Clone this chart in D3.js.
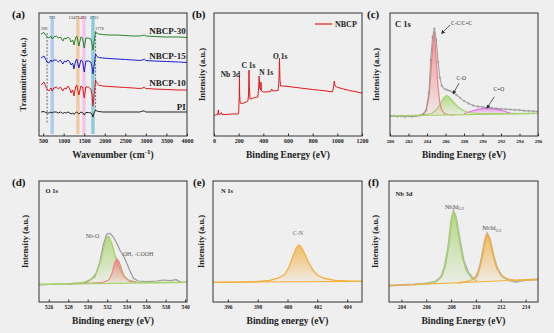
<!DOCTYPE html>
<html>
<head>
<meta charset="utf-8">
<script src="https://cdn.jsdelivr.net/npm/d3@7"></script>
<style>
  body { margin: 0; background: #efefef; }
  svg { display: block; font-family: "Liberation Serif", "Times New Roman", serif; }
</style>
</head>
<body>
<script>
// ---------- (a) FTIR ----------
const ftirWn = [450,520,560,596,640,690,721,760,820,870,920,980,1020,1060,1100,1150,1180,1220,1250,1290,
  1320,1370,1420,1460,1500,1540,1600,1660,1690,1712,1740,1776,1800,1850,1950,2100,2300,2500,2700,2850,
  2920,2960,3000,3200,3500,3800,4000];
const ftirNBCP30 = [102,103.5,101,99,98,100,97,99,100,98, 99,95,98,97,99,97,94,96,91,98,
  100,90,99,98,88,98,98,97,92,86, 94,104.5,103,102,101.5,101,101,100.5,100,100, 100.5,101,100,99.5,99,99,98.5];
const ftirNBCP15 = [78,80,77,74,73,76,74,76,76,74, 76,72,75,74,76,74,71,73,67,75,
  77,68,76,75,64,75,75,74,69,62, 70,82,80,78.5,78,77.5,77,76.5,76,75.5, 76,77,75.5,75,74.5,74,73.5];
const ftirNBCP10 = [51,54,50,47,45,48,45,48,49,47, 49,45,48,47,50,47,43,46,40,49,
  51,41,50,49,38,49,49,47,41,30, 41,56,53,51,50,49.5,49,48.5,48,47.5, 48,49,47.5,47,46.5,46,46];
const ftirPI = [24,24.5,23.5,23,23,24,23,24,24,23, 24,22.5,23.5,23,24,23,22,23,21.5,23.5,
  24,22,24,23.5,21,23.5,23.5,23,22,19, 23,26,25,24.5,24,24,24,24,24,24, 25,25,24,24,24,24,24];
const ftirSeries = ["NBCP-30","NBCP-15","NBCP-10","PI"];
const ftirBands = [721,1347,1493,1712];
const ftirDashed = [596,1776];
const ftirTicks = [500,1000,1500,2000,2500,3000,3500,4000];

// ---------- (b) XPS survey ----------
const surveyE = [0,10,20,30,35,40,50,60,65,100,150,195,200,204.5,206.5,208,212,230,260,275,
  280,284,287,292,310,330,355,362,366,370,378,381,385,400,420,460,468,475,520,527,
  531,535,540,560,600,700,800,900,960,968,975,982,1000,1050,1100,1200];
const surveyI = [20,21,21.5,21,26,21.5,22,23.5,21.5,21.5,22,22,23,40,60,41,33,32.5,34,35,
  41,66,48,37,37.5,38.5,39,48,60,49,46,54,45,44,44,44.5,47,45,45.5,56,
  78,56,50,50,49.5,48,46.5,45.2,44.2,48,55,50,48.7,47,45.5,43];
const surveyPeaks = ["Nb 3d","C 1s","N 1s","O 1s"];
const surveyPeakE = [133,280,423,537];
const surveyPeakI = [59,68,61.5,77];
const surveyTicks = [0,200,400,600,800,1000,1200];

// ---------- (c) C 1s ----------
const c1sE = [280,280.4,280.8,281.2,281.6,282,282.4,282.8,283.2,283.6,283.9,284.2,284.4,284.6,284.8,
  285,285.2,285.4,285.6,285.9,286.2,286.5,286.8,287.2,287.6,288,288.5,289,289.5,290,290.5,291,
  291.5,292,292.5,293,293.5,294,294.5,295,295.5,296];
const c1sRaw = [19.7,20.2,19.5,20,19.2,19.8,19.5,20.1,20.5,22,26,43,76,99,107.5,
  96,74,58,50,47,46,45,43.5,41,38,35,32.5,30.5,29.5,29,28.5,28,
  27.5,27.2,26.8,26.5,26,26,25.3,25,24.8,24.5];
const c1sCCE = [282,283,283.5,283.9,284.2,284.4,284.6,284.8,285,285.2,285.4,285.6,285.9,286.3,287];
const c1sCC  = [19.9,20.2,21,25,39,60,88,105,76,48,32,26,22.5,21.5,21];
const c1sCOE = [280,282,283.5,284.5,285,285.5,285.8,286.1,286.4,286.8,287.3,287.8,288.5,289.5,292,296];
const c1sCO  = [20,20.4,20.8,22.5,26,33,38,40.5,39,34.5,29.5,26,23.5,22.5,22.3,22.7];
const c1sCdOE = [288,288.5,289,289.5,290,290.5,291,291.5,292,292.5,293,293.5];
const c1sCdO  = [22.2,24,25.5,26.7,27.5,27.7,27.4,26.8,25.7,24.3,23,22.4];
const c1sBaseE = [280,296], c1sBase = [20,22.7];
const c1sTicks = [280,282,284,286,288,290,292,294,296];

// ---------- (d) O 1s ----------
const o1sE = [525,526,527,527.8,528.5,529.3,529.9,530.75,531.26,531.6,531.95,532.3,532.6,533,533.3,
  533.8,534.35,534.7,535.2,536.05,537.1,537.8,538.45,539.1,539.6,540.2];
const o1sRaw = [17,17.5,18,18,18.7,19,19.7,25.3,40.3,57,68,68.7,65.3,58.7,52,
  43.7,31,23.7,21,20.3,21,22,21.3,22.3,19.7,19.7];
const o1sNbOE = [525,528,529.5,530.3,530.9,531.3,531.6,531.85,532,532.2,532.5,532.8,533.2,533.7,534.3,535,537,540.2];
const o1sNbO  = [17.7,18.2,19.5,22.5,29,40,52,62,66,64.5,58,47,35,26,21.5,19.8,19.5,19.7];
const o1sOHE = [528,530,531.5,532.2,532.5,532.75,533,533.25,533.5,533.8,534.2,535];
const o1sOH  = [18,18.7,19.5,22,29,39,43.5,40,32,25,21,19.7];
const o1sBaseE = [525,540.2], o1sBase = [17.7,19.7];
const o1sTicks = [526,528,530,532,534,536,538,540];

// ---------- (e) N 1s ----------
const n1sE = [395,397,398,398.8,399.4,399.8,400.1,400.4,400.6,400.75,400.9,401.1,401.4,401.7,402,402.5,403.2,404,405];
const n1sCN = [19.7,20,20.5,21.5,24,27.5,35,47,54.5,57,55.5,50,40,32,27,23.5,21.7,21,20.7];
const n1sBaseE = [395,405], n1sBase = [19.7,20.7];
const n1sTicks = [396,398,400,402,404];

// ---------- (f) Nb 3d ----------
const nb3dE = [203,204,205,206,206.7,207.2,207.5,207.8,208,208.2,208.4,208.7,209,209.4,209.8,210.1,
  210.4,210.7,210.9,211.1,211.4,211.7,212.1,212.6,213.2,214,215];
const nb3dRaw = [16.5,17,17.5,18.5,20,25,36,57,80,91,84,62,42,29,23,26,
  40,60,68.5,64,47,34,26,22,20,22,22.5];
const nb52E = [205.5,206.3,206.9,207.3,207.6,207.85,208.05,208.2,208.35,208.6,208.9,209.2,209.6,210.1];
const nb52  = [17.8,18.8,21,27,40,62,84,90.3,86,66,45,32,24.5,21];
const nb32E = [208.5,209.3,209.9,210.3,210.6,210.8,210.9,211.05,211.3,211.6,212,212.5,213.2,214,215];
const nb32  = [19,20.5,23.5,34,52,65,67.7,65,52,37,27,23,21.5,22,22.7];
const nb3dBaseE = [203,215], nb3dBase = [16.3,22.7];
const nb3dTicks = [204,206,208,210,212,214];

// ---------- drawing ----------
const FONT = '"Liberation Serif", "Times New Roman", serif';
const svg = d3.select("body").append("svg").attr("width", 554).attr("height", 333);
const defs = svg.append("defs");

function gradient(id, color) {
  const lg = defs.append("linearGradient").attr("id", id)
    .attr("x1", 0).attr("y1", 0).attr("x2", 0).attr("y2", 1);
  lg.append("stop").attr("offset", "0%").attr("stop-color", color).attr("stop-opacity", 0.8);
  lg.append("stop").attr("offset", "100%").attr("stop-color", color).attr("stop-opacity", 0.06);
}
gradient("gRed", "#f07a7a");
gradient("gGreen", "#a6d36a");
gradient("gOrange", "#f2b040");
gradient("gPink", "#e58ae5");

defs.append("marker").attr("id", "arrow").attr("viewBox", "0 0 10 10")
  .attr("refX", 2).attr("refY", 5).attr("markerWidth", 5).attr("markerHeight", 5)
  .attr("orient", "auto-start-reverse")
  .append("path").attr("d", "M0,0L10,5L0,10z").attr("fill", "#333");

function panel(p) {
  const g = svg.append("g").attr("transform", `translate(${p.left},${p.top})`);
  const x = d3.scaleLinear().domain(p.xDomain).range([0, p.w]);
  const y = d3.scaleLinear().domain(p.yDomain).range([p.h, 0]);
  defs.append("clipPath").attr("id", "clip" + p.letter)
    .append("rect").attr("width", p.w).attr("height", p.h);
  const plot = g.append("g").attr("clip-path", `url(#clip${p.letter})`);

  const ax = g.append("g").attr("transform", `translate(0,${p.h})`)
    .call(d3.axisBottom(x).tickValues(p.ticks).tickSize(-2.5).tickPadding(3).tickFormat(d3.format("d")));
  ax.select(".domain").remove();
  ax.attr("font-family", FONT).attr("font-size", p.tickFont).attr("font-weight", "bold");
  ax.selectAll("line").attr("stroke", "#333");
  ax.selectAll("text").attr("fill", "#222");

  g.append("rect").attr("width", p.w).attr("height", p.h)
    .attr("fill", "none").attr("stroke", "#333").attr("stroke-width", 1);

  const xt = g.append("text").attr("x", p.w / 2).attr("y", p.h + 22)
    .attr("text-anchor", "middle").attr("font-size", 9.5).attr("font-weight", "bold").attr("fill", "#222");
  if (p.xTitleSup) {
    xt.append("tspan").text(p.xTitle);
    xt.append("tspan").attr("dy", -4).attr("font-size", 7).text(p.xTitleSup);
    xt.append("tspan").attr("dy", 4).text(")");
  } else xt.text(p.xTitle);

  g.append("text").attr("transform", `translate(${p.yTitleX},${p.h / 2}) rotate(-90)`)
    .attr("text-anchor", "middle").attr("dy", "0.35em")
    .attr("font-size", 8.5).attr("font-weight", "bold").attr("fill", "#222").text(p.yTitle);

  g.append("text").attr("x", p.letterX).attr("y", 5)
    .attr("font-size", 11).attr("font-weight", "bold").attr("fill", "#111").text(`(${p.letter})`);

  if (p.inner) {
    g.append("text").attr("x", p.innerX).attr("y", p.innerY)
      .attr("font-size", p.innerFont).attr("font-weight", "bold").attr("fill", "#222").text(p.inner);
  }
  return { g, plot, x, y };
}

function linePath(x, y, xs, ys) {
  return d3.line().x((d, i) => x(xs[i])).y(d => y(d))(ys);
}
function drawPeak(P, xs, ys, baseE, base, stroke, fillId, sw) {
  const bl = d3.scaleLinear().domain(baseE).range(base);
  const area = d3.area().x((d, i) => P.x(xs[i])).y0((d, i) => P.y(bl(xs[i]))).y1(d => P.y(d));
  P.plot.append("path").attr("d", area(ys)).attr("fill", `url(#${fillId})`);
  P.plot.append("path").attr("d", linePath(P.x, P.y, xs, ys))
    .attr("fill", "none").attr("stroke", stroke).attr("stroke-width", sw || 1.2);
}
function drawBase(P, baseE, base, color) {
  P.plot.append("path").attr("d", linePath(P.x, P.y, baseE, base))
    .attr("fill", "none").attr("stroke", color).attr("stroke-width", 1.2);
}
function label(P, txt, xv, yv, opt) {
  const t = P.g.append("text").attr("x", P.x(xv)).attr("y", P.y(yv))
    .attr("text-anchor", opt.anchor || "start").attr("font-size", opt.size || 5.5)
    .attr("font-weight", opt.bold ? "bold" : "normal").attr("fill", opt.color || "#555");
  if (opt.sub) {
    t.append("tspan").text(txt);
    t.append("tspan").attr("dy", 1.8).attr("font-size", (opt.size || 5.5) * 0.75).text(opt.sub);
  } else t.text(txt);
}
function arrow(P, x1, y1, x2, y2) {
  P.g.append("line").attr("x1", P.x(x1)).attr("y1", P.y(y1)).attr("x2", P.x(x2)).attr("y2", P.y(y2))
    .attr("stroke", "#333").attr("stroke-width", 0.8).attr("marker-start", "url(#arrow)");
}

// (a)
const A = panel({ letter: "a", left: 39, top: 13, w: 148, h: 123, xDomain: [400, 4000], yDomain: [0, 123],
  ticks: ftirTicks, tickFont: 6, xTitle: "Wavenumber (cm", xTitleSup: "-1",
  yTitle: "Transmittance (a.u.)", yTitleX: -16, letterX: -27 });
const bandColors = ["#9fc2ec", "#f3bf8c", "#f2b9ef", "#6fc3d6"];
ftirBands.forEach((b, i) => {
  A.plot.append("rect").attr("x", A.x(b) - 1.7).attr("y", A.y(120)).attr("width", 3.4)
    .attr("height", A.y(2) - A.y(120)).attr("fill", bandColors[i]).attr("opacity", 0.8);
});
ftirDashed.forEach((b, i) => {
  A.plot.append("line").attr("x1", A.x(b)).attr("x2", A.x(b))
    .attr("y1", A.y(i === 0 ? 103 : 104)).attr("y2", A.y(i === 0 ? 13 : 26))
    .attr("stroke", "#333").attr("stroke-width", 0.7).attr("stroke-dasharray", "2,1.5");
});
const bandLabels = [596, 721, 1347, 1493, 1712, 1776];
const bandLabelDx = [-3, 0, -5, -2, 1, 4];
const bandLabelY = [106, 117, 117, 117, 117, 106];
bandLabels.forEach((b, i) => {
  A.g.append("text").attr("x", A.x(b) + bandLabelDx[i]).attr("y", A.y(bandLabelY[i]))
    .attr("text-anchor", "middle").attr("font-size", 4.5).attr("fill", "#333").text(b);
});
const ftirData = [ftirNBCP30, ftirNBCP15, ftirNBCP10, ftirPI];
const ftirColors = ["#23862a", "#1c1fcf", "#e0191c", "#222"];
ftirData.forEach((s, i) => {
  A.plot.append("path").attr("d", linePath(A.x, A.y, ftirWn, s))
    .attr("fill", "none").attr("stroke", ftirColors[i]).attr("stroke-width", 1);
  A.g.append("text").attr("x", A.x(3970)).attr("y", A.y(s[s.length - 1]) - (i === 3 ? 2 : 4))
    .attr("text-anchor", "end").attr("font-size", 9).attr("font-weight", "bold").attr("fill", "#222")
    .text(ftirSeries[i]);
});

// (b)
const B = panel({ letter: "b", left: 214, top: 13, w: 148, h: 123, xDomain: [0, 1200], yDomain: [0, 123],
  ticks: surveyTicks, tickFont: 6, xTitle: "Binding Energy (eV)",
  yTitle: "Intensity (a.u.)", yTitleX: -12, letterX: -22 });
B.plot.append("path").attr("d", linePath(B.x, B.y, surveyE, surveyI))
  .attr("fill", "none").attr("stroke", "#e3191c").attr("stroke-width", 1);
surveyPeaks.forEach((t, i) => label(B, t, surveyPeakE[i], surveyPeakI[i],
  { anchor: "middle", size: 7.5, bold: true, color: "#222" }));
B.g.append("line").attr("x1", 101).attr("x2", 118).attr("y1", 11).attr("y2", 11)
  .attr("stroke", "#e3191c").attr("stroke-width", 1.2);
B.g.append("text").attr("x", 121).attr("y", 13.5).attr("font-size", 8).attr("font-weight", "bold")
  .attr("fill", "#222").text("NBCP");

// (c)
const C = panel({ letter: "c", left: 390, top: 13, w: 148, h: 123, xDomain: [280, 296], yDomain: [0, 123],
  ticks: c1sTicks, tickFont: 5, xTitle: "Binding Energy (eV)",
  yTitle: "Intensity (a.u.)", yTitleX: -14, letterX: -23,
  inner: "C 1s", innerX: 5, innerY: 14, innerFont: 8.5 });
drawPeak(C, c1sCdOE, c1sCdO, c1sBaseE, c1sBase, "#e070e0", "gPink", 1.2);
drawPeak(C, c1sCOE, c1sCO, c1sBaseE, c1sBase, "#a6d36a", "gGreen", 1.2);
drawPeak(C, c1sCCE, c1sCC, c1sBaseE, c1sBase, "#f08080", "gRed", 1.2);
C.plot.append("path").attr("d", linePath(C.x, C.y, c1sE, c1sRaw))
  .attr("fill", "none").attr("stroke", "#9a9a9a").attr("stroke-width", 1);
C.plot.selectAll("circle.raw").data(c1sRaw).enter().append("circle")
  .attr("cx", (d, i) => C.x(c1sE[i])).attr("cy", d => C.y(d)).attr("r", 0.9)
  .attr("fill", "none").attr("stroke", "#888").attr("stroke-width", 0.5);
drawBase(C, c1sBaseE, c1sBase, "#a6d36a");
label(C, "C-C/C=C", 286.6, 111.5, { size: 5.5, color: "#333" });
arrow(C, 285.76, 104.3, 286.49, 111);
label(C, "C-O", 287.2, 56.5, { size: 5.5, color: "#333" });
arrow(C, 286.95, 44.3, 287.46, 52.7);
label(C, "C=O", 291.2, 45, { size: 5.5, color: "#333" });
arrow(C, 290.63, 30, 291.28, 39.3);

// (d)
const D = panel({ letter: "d", left: 39, top: 181, w: 148, h: 121, xDomain: [525, 540.2], yDomain: [0, 121],
  ticks: o1sTicks, tickFont: 5.5, xTitle: "Binding energy (eV)",
  yTitle: "Intensity (a.u.)", yTitleX: -14, letterX: -27,
  inner: "O 1s", innerX: 6.5, innerY: 11.5, innerFont: 6.5 });
D.plot.append("path").attr("d", linePath(D.x, D.y, o1sE, o1sRaw))
  .attr("fill", "none").attr("stroke", "#9a9a9a").attr("stroke-width", 1.2);
drawPeak(D, o1sNbOE, o1sNbO, o1sBaseE, o1sBase, "#a6d36a", "gGreen", 1.3);
drawPeak(D, o1sOHE, o1sOH, o1sBaseE, o1sBase, "#f07a7a", "gRed", 1);
drawBase(D, o1sBaseE, o1sBase, "#a6d36a");
label(D, "Nb-O", 530.5, 64, { anchor: "middle", size: 6, color: "#555" });
label(D, "OH, -COOH", 533.6, 46.5, { size: 6, color: "#555" });

// (e)
const E = panel({ letter: "e", left: 213, top: 181, w: 149, h: 121, xDomain: [395, 405], yDomain: [0, 121],
  ticks: n1sTicks, tickFont: 5.5, xTitle: "Binding energy (eV)",
  yTitle: "Intensity (a.u.)", yTitleX: -12, letterX: -20,
  inner: "N 1s", innerX: 8, innerY: 11.5, innerFont: 6.5 });
drawPeak(E, n1sE, n1sCN, n1sBaseE, n1sBase, "#f2b040", "gOrange", 1.3);
drawBase(E, n1sBaseE, n1sBase, "#f2b040");
label(E, "C-N", 400.7, 67, { anchor: "middle", size: 6, color: "#666" });

// (f)
const F = panel({ letter: "f", left: 389, top: 181, w: 149, h: 121, xDomain: [203, 215], yDomain: [0, 121],
  ticks: nb3dTicks, tickFont: 5.5, xTitle: "Binding Energy (eV)",
  yTitle: "Intensity (a.u.)", yTitleX: -14, letterX: -21,
  inner: "Nb 3d", innerX: 6.5, innerY: 15, innerFont: 6.5 });
F.plot.append("path").attr("d", linePath(F.x, F.y, nb3dE, nb3dRaw))
  .attr("fill", "none").attr("stroke", "#b4b4b4").attr("stroke-width", 2);
drawPeak(F, nb52E, nb52, nb3dBaseE, nb3dBase, "#a6d36a", "gGreen", 1.3);
drawPeak(F, nb32E, nb32, nb3dBaseE, nb3dBase, "#f2b040", "gOrange", 1.3);
drawBase(F, nb3dBaseE, nb3dBase, "#f2b040");
label(F, "Nb3d", 207.5, 93.5, { size: 6, color: "#444", sub: "5/2" });
label(F, "Nb3d", 210.5, 72, { size: 6, color: "#444", sub: "3/2" });
</script>
</body>
</html>
